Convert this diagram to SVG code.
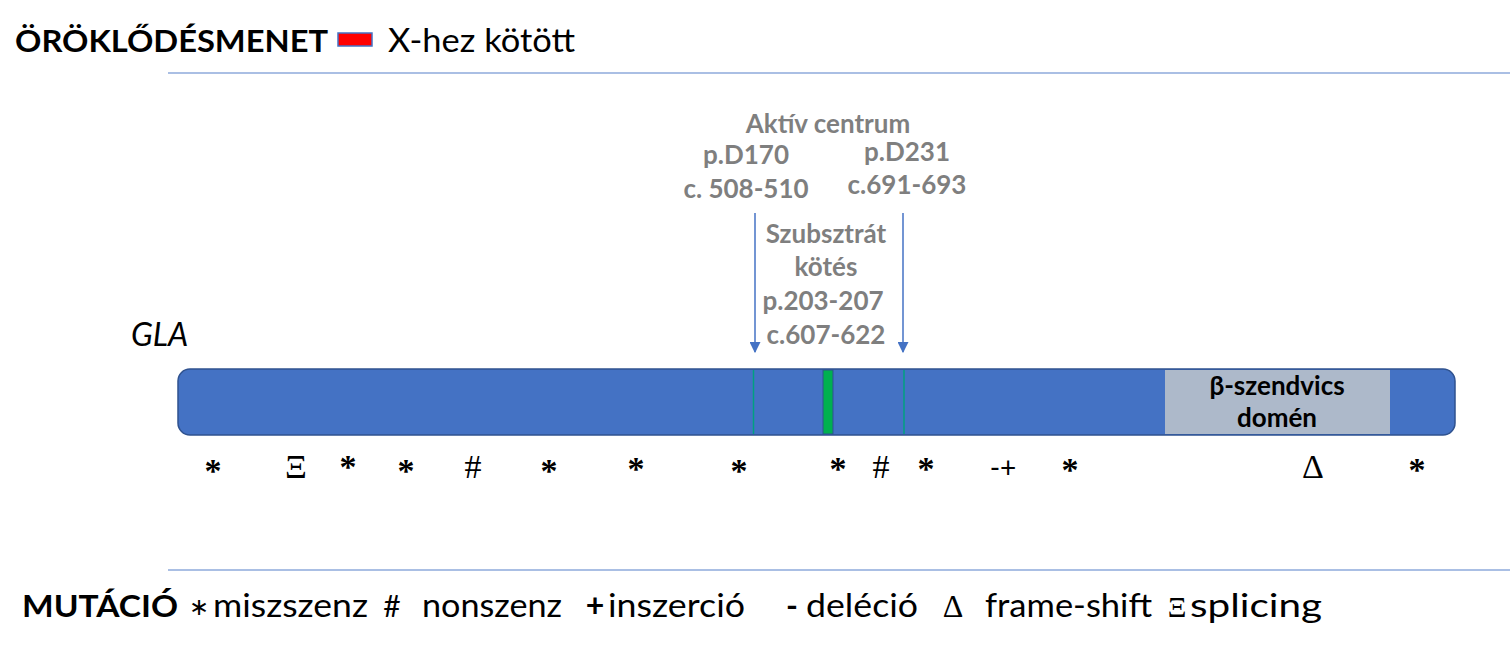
<svg xmlns="http://www.w3.org/2000/svg" width="1510" height="652" viewBox="0 0 1510 652">
<defs>
<style>
.t{font-family:Lato,"Open Sans","Liberation Sans",sans-serif;fill:#000}
.b{font-weight:bold}
.g{font-family:Lato,"Open Sans","Liberation Sans",sans-serif;font-weight:bold;fill:#7f7f7f;font-size:26px;text-anchor:middle}
.s{font-family:"Liberation Serif","DejaVu Serif",serif;fill:#000;font-size:34px;text-anchor:middle}
.ast{font-weight:bold}
.lg{font-family:Lato,"Open Sans","Liberation Sans",sans-serif;fill:#000;font-size:32px}
.sep{stroke:#8eaadb;stroke-width:1.5}
.conn{stroke:#4472c4;stroke-width:1.5;fill:none}
</style>
<marker id="ah" viewBox="0 0 10 10" refX="9" refY="5" markerWidth="11" markerHeight="11" markerUnits="userSpaceOnUse" orient="auto">
<path d="M0,0 L10,5 L0,10 z" fill="#4472c4"/>
</marker>
</defs>
<rect width="1510" height="652" fill="#fff"/>

<g id="title">
<text class="t b" x="15" y="52" font-size="31" textLength="313" lengthAdjust="spacingAndGlyphs">ÖRÖKLŐDÉSMENET</text>
<rect x="338" y="33" width="34" height="13" fill="#ff0000" stroke="#4472c4" stroke-width="1.5"/>
<text class="t" x="388" y="52" font-size="32" textLength="187" lengthAdjust="spacingAndGlyphs">X-hez kötött</text>
</g>

<g id="separators">
<line class="sep" x1="168" y1="73" x2="1510" y2="73"/>
<line class="sep" x1="168" y1="570" x2="1510" y2="570"/>
</g>

<g id="gla-label">
<text class="t" x="131" y="346" font-size="32" font-style="italic">GLA</text>
</g>

<g id="gene-bar">
<rect x="178" y="369" width="1277" height="66" rx="12" ry="12" fill="#4472c4" stroke="#2f528f" stroke-width="1.5"/>
</g>

<g id="beta-domain">
<rect x="1165" y="370" width="225" height="64" fill="#adb9ca"/>
<text class="t b" x="1277" y="395" font-size="26" text-anchor="middle">β-szendvics</text>
<text class="t b" x="1277" y="427" font-size="26" text-anchor="middle">domén</text>
</g>

<g id="sites">
<line x1="753.5" y1="370" x2="753.5" y2="434" stroke="#00a080" stroke-width="1.5"/>
<rect x="823" y="370" width="10" height="64" fill="#00b050" stroke="#2f528f" stroke-width="1"/>
<line x1="904" y1="370" x2="904" y2="434" stroke="#00a080" stroke-width="1.5"/>
</g>

<g id="labels">
<text class="g" x="828" y="133">Aktív centrum</text>
<text class="g" x="746" y="164">p.D170</text>
<text class="g" x="746" y="198">c. 508-510</text>
<text class="g" x="907" y="161">p.D231</text>
<text class="g" x="907" y="194">c.691-693</text>
<text class="g" x="826" y="243">Szubsztrát</text>
<text class="g" x="826" y="276">kötés</text>
<text class="g" x="823" y="310">p.203-207</text>
<text class="g" x="826" y="344">c.607-622</text>
</g>

<g id="connectors">
<line class="conn" x1="755" y1="213" x2="755" y2="352" marker-end="url(#ah)"/>
<line class="conn" x1="903" y1="213" x2="903" y2="352" marker-end="url(#ah)"/>
</g>

<g id="mutations">
<text class="s ast" x="213" y="482">*</text>
<text class="s" x="296" y="478">Ξ</text>
<text class="s ast" x="348" y="478">*</text>
<text class="s ast" x="406" y="482">*</text>
<text class="s" x="473" y="478">#</text>
<text class="s ast" x="549" y="482">*</text>
<text class="s ast" x="636" y="480">*</text>
<text class="s ast" x="739" y="482">*</text>
<text class="s ast" x="838" y="480">*</text>
<text class="s" x="881" y="478">#</text>
<text class="s ast" x="926" y="480">*</text>
<text class="t" x="1003" y="478" font-size="28" text-anchor="middle">-+</text>
<text class="s ast" x="1070" y="481">*</text>
<text class="s" x="1313" y="478">Δ</text>
<text class="s ast" x="1417" y="481">*</text>
</g>

<g id="legend">
<text class="t b" x="22" y="617" font-size="31" textLength="156" lengthAdjust="spacingAndGlyphs">MUTÁCIÓ</text>
<text class="lg" x="199" y="615" text-anchor="middle" style="font-size:24px">∗</text>
<text class="lg" x="213" y="617" textLength="155" lengthAdjust="spacingAndGlyphs">miszszenz</text>
<text class="lg" x="392" y="617" text-anchor="middle" style="font-size:30px">#</text>
<text class="lg" x="422" y="617" textLength="140" lengthAdjust="spacingAndGlyphs">nonszenz</text>
<text class="lg b" x="595" y="617" text-anchor="middle">+</text>
<text class="lg" x="608" y="617" textLength="137" lengthAdjust="spacingAndGlyphs">inszerció</text>
<text class="lg b" x="792" y="617" text-anchor="middle">-</text>
<text class="lg" x="806" y="617" textLength="112" lengthAdjust="spacingAndGlyphs">deléció</text>
<text class="s" x="953" y="617" style="font-size:32px">Δ</text>
<text class="lg" x="985" y="617" textLength="167" lengthAdjust="spacingAndGlyphs">frame-shift</text>
<text class="s" x="1177" y="617" style="font-size:29px">Ξ</text>
<text class="lg" x="1190" y="617" textLength="132" lengthAdjust="spacingAndGlyphs">splicing</text>
</g>
</svg>
